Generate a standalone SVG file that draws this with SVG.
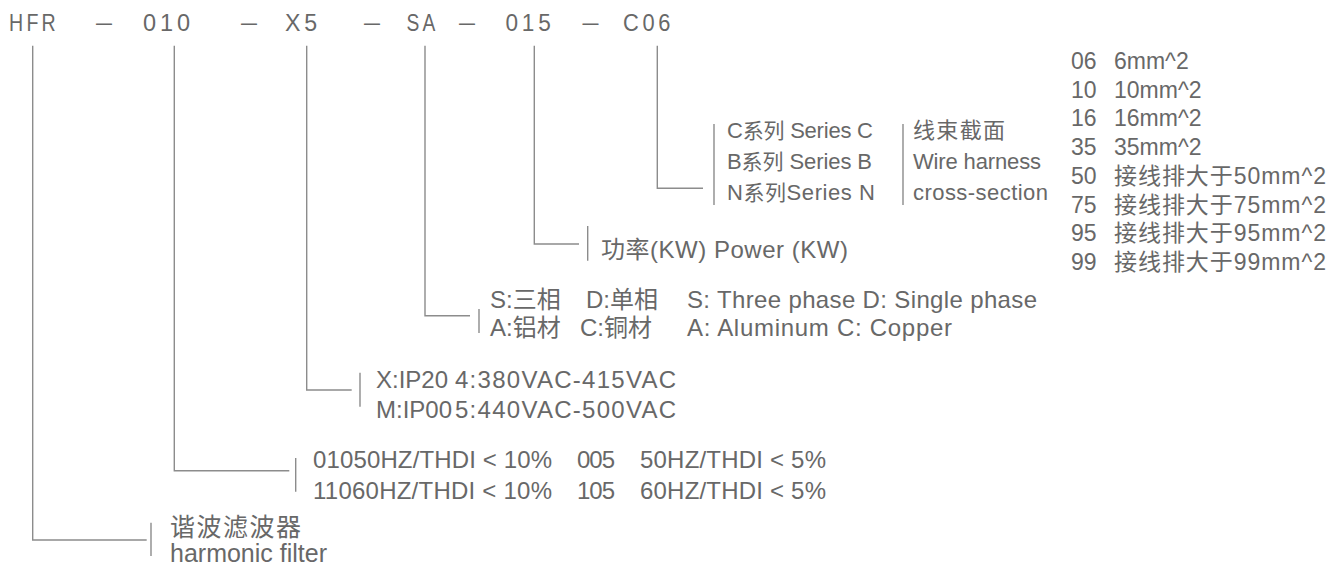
<svg xmlns="http://www.w3.org/2000/svg" width="1342" height="568" viewBox="0 0 1342 568">
<style>
.t{font-family:'Liberation Sans','Noto Sans CJK SC',sans-serif;fill:#686868;font-size:22px}
.tp{font-size:24px;letter-spacing:4px;text-anchor:middle}
.dash{font-size:24px;text-anchor:middle}
.m{font-size:24px}
.r{font-size:23px}
.lg{font-size:25px}
.cj{font-size:21px}
.ln{fill:none;stroke:#8c8c8c;stroke-width:1.4}
</style>
<rect width="1342" height="568" fill="#ffffff"/>
<g id="code" class="t">
<text class="t tp" x="34" y="31" textLength="50" lengthAdjust="spacingAndGlyphs">HFR</text>
<text class="t dash" x="104" y="30" textLength="16" lengthAdjust="spacingAndGlyphs">–</text>
<text class="t tp" x="168.5" y="31" textLength="51" lengthAdjust="spacingAndGlyphs">010</text>
<text class="t dash" x="249" y="30" textLength="16" lengthAdjust="spacingAndGlyphs">–</text>
<text class="t tp" x="303" y="31" textLength="36" lengthAdjust="spacingAndGlyphs">X5</text>
<text class="t dash" x="372" y="30" textLength="16" lengthAdjust="spacingAndGlyphs">–</text>
<text class="t tp" x="422.5" y="31" textLength="32" lengthAdjust="spacingAndGlyphs">SA</text>
<text class="t dash" x="467" y="30" textLength="16" lengthAdjust="spacingAndGlyphs">–</text>
<text class="t tp" x="530" y="31" textLength="49" lengthAdjust="spacingAndGlyphs">015</text>
<text class="t dash" x="590.5" y="30" textLength="16" lengthAdjust="spacingAndGlyphs">–</text>
<text class="t tp" x="648.5" y="31" textLength="51" lengthAdjust="spacingAndGlyphs">C06</text>
</g>
<g id="connectors" class="ln">
<path d="M32.7,45.7V540H146.7M151,522.7V556"/>
<path d="M174.3,45.7V470.7H289.3M295.7,458V491.7"/>
<path d="M306.7,45.7V390H351.7M360,372.7V406.7"/>
<path d="M425,45.7V315.7H470M479,309V333"/>
<path d="M534.3,45.7V244H579M587.7,226V260.7"/>
<path d="M657.3,45.7V188.3H703M714,124V205M903,124V205"/>
</g>
<g id="node-series" class="t">
<text x="727" y="138" textLength="146">C<tspan class="cj">系列</tspan> Series C</text>
<text x="727" y="169" textLength="145">B<tspan class="cj">系列</tspan> Series B</text>
<text x="727" y="200" textLength="148">N<tspan class="cj">系列</tspan>Series N</text>
<text x="913" y="138" textLength="92">线束截面</text>
<text x="913" y="169" textLength="128">Wire harness</text>
<text x="913" y="200" textLength="135">cross-section</text>
</g>
<g id="node-section" class="t r">
<text x="1071" y="69">06</text><text x="1114" y="69">6mm^2</text>
<text x="1071" y="97.7">10</text><text x="1114" y="97.7">10mm^2</text>
<text x="1071" y="126.4">16</text><text x="1114" y="126.4">16mm^2</text>
<text x="1071" y="155">35</text><text x="1114" y="155">35mm^2</text>
<text x="1071" y="183.8">50</text><text x="1114" y="183.8" textLength="212">接线排大于50mm^2</text>
<text x="1071" y="212.5">75</text><text x="1114" y="212.5" textLength="212">接线排大于75mm^2</text>
<text x="1071" y="241">95</text><text x="1114" y="241" textLength="212">接线排大于95mm^2</text>
<text x="1071" y="270">99</text><text x="1114" y="270" textLength="212">接线排大于99mm^2</text>
</g>
<g id="node-power" class="t m">
<text x="601" y="258" textLength="247">功率(KW) Power (KW)</text>
</g>
<g id="node-phase" class="t m">
<text x="490" y="308">S:三相</text>
<text x="586" y="308">D:单相</text>
<text x="687" y="308" textLength="350">S: Three phase D: Single phase</text>
<text x="490" y="336">A:铝材</text>
<text x="580" y="336">C:铜材</text>
<text x="687" y="336" textLength="265">A: Aluminum C: Copper</text>
</g>
<g id="node-ip" class="t m">
<text x="376" y="388">X:IP20</text>
<text x="455" y="388" textLength="221">4:380VAC-415VAC</text>
<text x="376" y="418">M:IP00</text>
<text x="455" y="418" textLength="221">5:440VAC-500VAC</text>
</g>
<g id="node-thdi" class="t m">
<text x="313" y="468" textLength="239">01050HZ/THDI &lt; 10%</text>
<text x="577" y="468" textLength="38">005</text>
<text x="640" y="468" textLength="186">50HZ/THDI &lt; 5%</text>
<text x="313" y="499" textLength="239">11060HZ/THDI &lt; 10%</text>
<text x="577" y="499" textLength="38">105</text>
<text x="640" y="499" textLength="186">60HZ/THDI &lt; 5%</text>
</g>
<g id="node-filter" class="t lg">
<text x="170" y="536" textLength="131">谐波滤波器</text>
<text x="170" y="562">harmonic filter</text>
</g>
</svg>
